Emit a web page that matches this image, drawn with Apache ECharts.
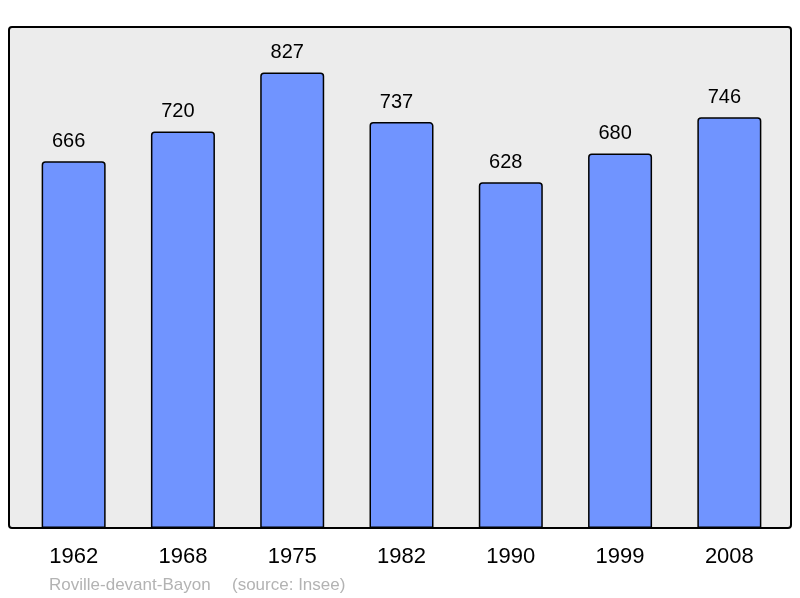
<!DOCTYPE html>
<html><head><meta charset="utf-8">
<script src="https://cdn.jsdelivr.net/npm/echarts@6/dist/echarts.min.js"></script>
<style>html,body{margin:0;padding:0;background:#fff}#c{width:800px;height:598px}</style>
</head><body><div id="c"></div>
<script>
const years = ['1962','1968','1975','1982','1990','1999','2008'];
const population = [666, 720, 827, 737, 628, 680, 746];
const place = 'Roville-devant-Bayon';
const source = '(source: Insee)';

const chart = echarts.init(document.getElementById('c'), null, {renderer:'canvas'});
const font = 'Liberation Sans, Arial, sans-serif';
chart.setOption({
  animation:false,
  backgroundColor:'#ffffff',
  graphic:[
    {type:'rect', z:-10, shape:{x:9,y:27,width:782,height:501,r:3}, style:{fill:'#ececec',stroke:'#000',lineWidth:2}},
    {type:'text', left:49, top:577, style:{text:place, fill:'#b3b3b3', font:'17px '+font}},
    {type:'text', left:232, top:577, style:{text:source, fill:'#b3b3b3', font:'17px '+font}}
  ],
  grid:{left:19, right:16, top:27, bottom:70},
  xAxis:{type:'category', data:years, axisLine:{show:false}, axisTick:{show:false},
    axisLabel:{fontSize:22, color:'#000', fontFamily:font, margin:18}},
  yAxis:{type:'value', min:0, max:Math.max(...population)*1.1, show:false, splitLine:{show:false}},
  series:[{type:'bar', data:population, barWidth:64,
    itemStyle:{color:'#7094ff', borderColor:'#000', borderWidth:1.5, borderRadius:[3,3,0,0]},
    label:{show:true, position:'top', distance:10, offset:[-5,0], fontSize:20, color:'#000', fontFamily:font}}]
});
</script></body></html>
